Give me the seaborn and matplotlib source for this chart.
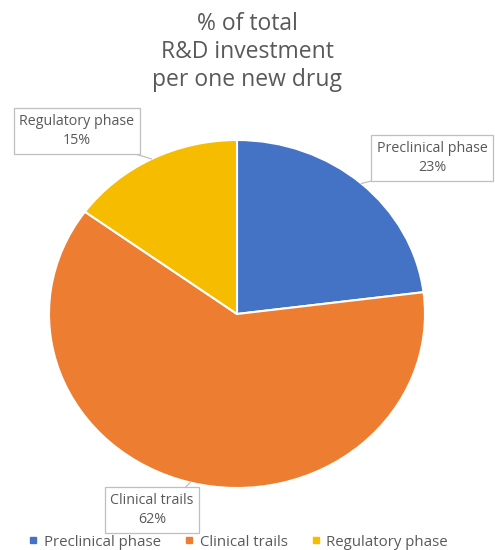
import numpy as np
import matplotlib
matplotlib.use("Agg")
import matplotlib.pyplot as plt
import seaborn as sns

categories = ["Preclinical phase", "Clinical trails", "Regulatory phase"]
shares = [23, 62, 15]
colors = ["#4472C4", "#ED7D31", "#F5BC00"]
title = "% of total\nR&D investment\nper one new drug"

sns.set_theme(style="white")
plt.rcParams["font.family"] = ["Open Sans", "DejaVu Sans"]

W, H = 495, 550
fig = plt.figure(figsize=(W / 100, H / 100), dpi=100)
# pie axes (elliptical pie as in reference)
left, right, top, bottom = 49, 425, 140, 488
ax = fig.add_axes([left / W, (H - bottom) / H, (right - left) / W, (bottom - top) / H])
wedges, _ = ax.pie(shares, colors=sns.color_palette(colors), startangle=90,
                   counterclock=False, radius=1,
                   wedgeprops=dict(edgecolor="white", linewidth=1.5))
ax.set_aspect("auto")
ax.set_xlim(-1, 1)
ax.set_ylim(-1, 1)
ax.axis("off")

fig.text(0.5, 1 - 52 / H, title, ha="center", va="center", fontsize=16.5,
         color="#595959", linespacing=1.25)

# data labels with leader lines to the wedge mid-angle
total = sum(shares)
label_pos = {  # pixel centres of label boxes
    "Preclinical phase": (432, 158, (0.18, 0.0)),
    "Clinical trails": (152, 510, (0.83, 1.0)),
    "Regulatory phase": (77, 131, (0.83, 0.0)),
}
cum = 0
for cat, val in zip(categories, shares):
    mid = 90 - (cum + val / 2) / total * 360
    cum += val
    th = np.deg2rad(mid)
    px, py, rel = label_pos[cat]
    ax.annotate(f"{cat}\n{val}%", xy=(np.cos(th), np.sin(th)), xycoords="data",
                xytext=(px / W, 1 - py / H), textcoords="figure fraction",
                ha="center", va="center", fontsize=10.3, color="#595959",
                linespacing=1.35,
                bbox=dict(boxstyle="square,pad=0.4", fc="white", ec="#BFBFBF", lw=0.9),
                arrowprops=dict(arrowstyle="-", color="#BFBFBF", lw=0.9,
                                relpos=rel, shrinkA=0, shrinkB=0),
                annotation_clip=False)

handles = [plt.Line2D([], [], marker="s", linestyle="", markersize=5,
                      markerfacecolor=c, markeredgecolor=c) for c in colors]
fig.legend(handles, categories, loc="center", bbox_to_anchor=(0.48, 1 - 542 / H),
           ncol=3, frameon=False, fontsize=10.8, handletextpad=0.3, columnspacing=1.5,
           labelcolor="#595959", handlelength=0.8)

fig.savefig("out.png", dpi=100)
